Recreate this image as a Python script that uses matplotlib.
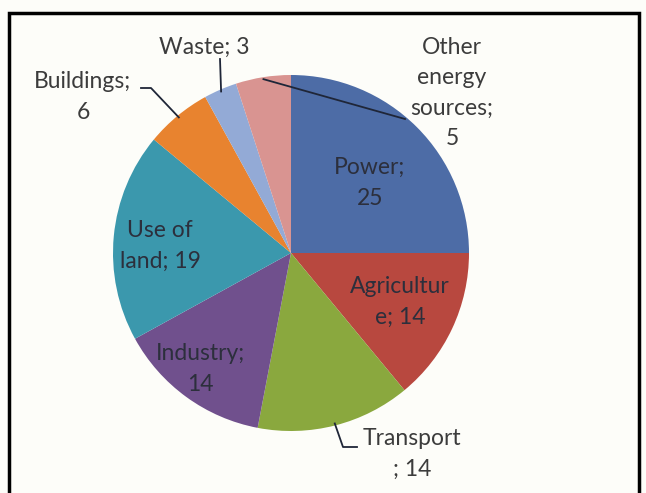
import numpy as np
import matplotlib.pyplot as plt
from matplotlib.patches import Rectangle

# ── data ─────────────────────────────────────────────────────────────────────
labels = ["Power", "Agriculture", "Transport", "Industry", "Use of land",
          "Buildings", "Waste", "Other energy sources"]
values = [25, 14, 14, 14, 19, 6, 3, 5]
texts  = ["Power;\n25", "Agricultur\ne; 14", "Transport\n; 14", "Industry;\n14",
          "Use of\nland; 19", "Buildings;\n6", "Waste; 3", "Other\nenergy\nsources;\n5"]
colors = ["#4d6ca6", "#b8483f", "#8aa83e", "#70508d", "#3b98ad",
          "#e8832f", "#93aad6", "#d99491"]

W, H = 646, 493
def py(y):               # pixel row (top-down) → data y
    return H - y

CX, CY, R = 291, 253, 178

# label text positions (pixel coords, centre of text block)
lab_pos = {
    "Power":       (370, 183),
    "Agriculture": (400, 302),
    "Transport":   (412, 454),
    "Industry":    (200, 369),
    "Use of land": (160, 246),
    "Buildings":   (83, 97),
    "Waste":       (204, 47),
    "Other energy sources": (452, 93),
}
# leader line end points near the text (pixel coords)
leader_ends = {
    "Buildings": [(151, 88), (141, 88)],
    "Waste":     [(220, 59)],
    "Other energy sources": [(405, 119)],
    "Transport": [(343, 447), (357, 447)],
}

fig = plt.figure(figsize=(W / 100, H / 100), dpi=100)
fig.patch.set_facecolor("#fdfdf9")
ax = fig.add_axes([0, 0, 1, 1])
ax.set_facecolor("#fdfdf9")

wedges, _ = ax.pie(values, colors=colors, startangle=90, counterclock=False,
                   center=(CX, py(CY)), radius=R,
                   wedgeprops=dict(linewidth=0))
ax.set_xlim(0, W); ax.set_ylim(0, H)
ax.set_aspect("equal"); ax.axis("off")

# frame
ax.add_patch(Rectangle((9, -10), 630, py(13) + 10, fill=False,
                       edgecolor="black", linewidth=2.5))

for name, txt, w in zip(labels, texts, wedges):
    x, y = lab_pos[name]
    inside = name in ("Power", "Agriculture", "Industry", "Use of land")
    ax.text(x, py(y), txt, ha="center", va="center", fontsize=16.5,
            family="Lato", color="#2c2f3c" if inside else "#3c3c3c",
            linespacing=1.55)
    if name in leader_ends:
        mid = np.deg2rad((w.theta1 + w.theta2) / 2)
        ex, ey = CX + (R - 2) * np.cos(mid), py(CY) + (R - 2) * np.sin(mid)
        pts = [(ex, ey)] + [(px, py(pyy)) for px, pyy in leader_ends[name]]
        xs, ys = zip(*pts)
        ax.plot(xs, ys, color="#1f2638", linewidth=1.3)

fig.savefig("out.png", dpi=100, facecolor=fig.get_facecolor())
